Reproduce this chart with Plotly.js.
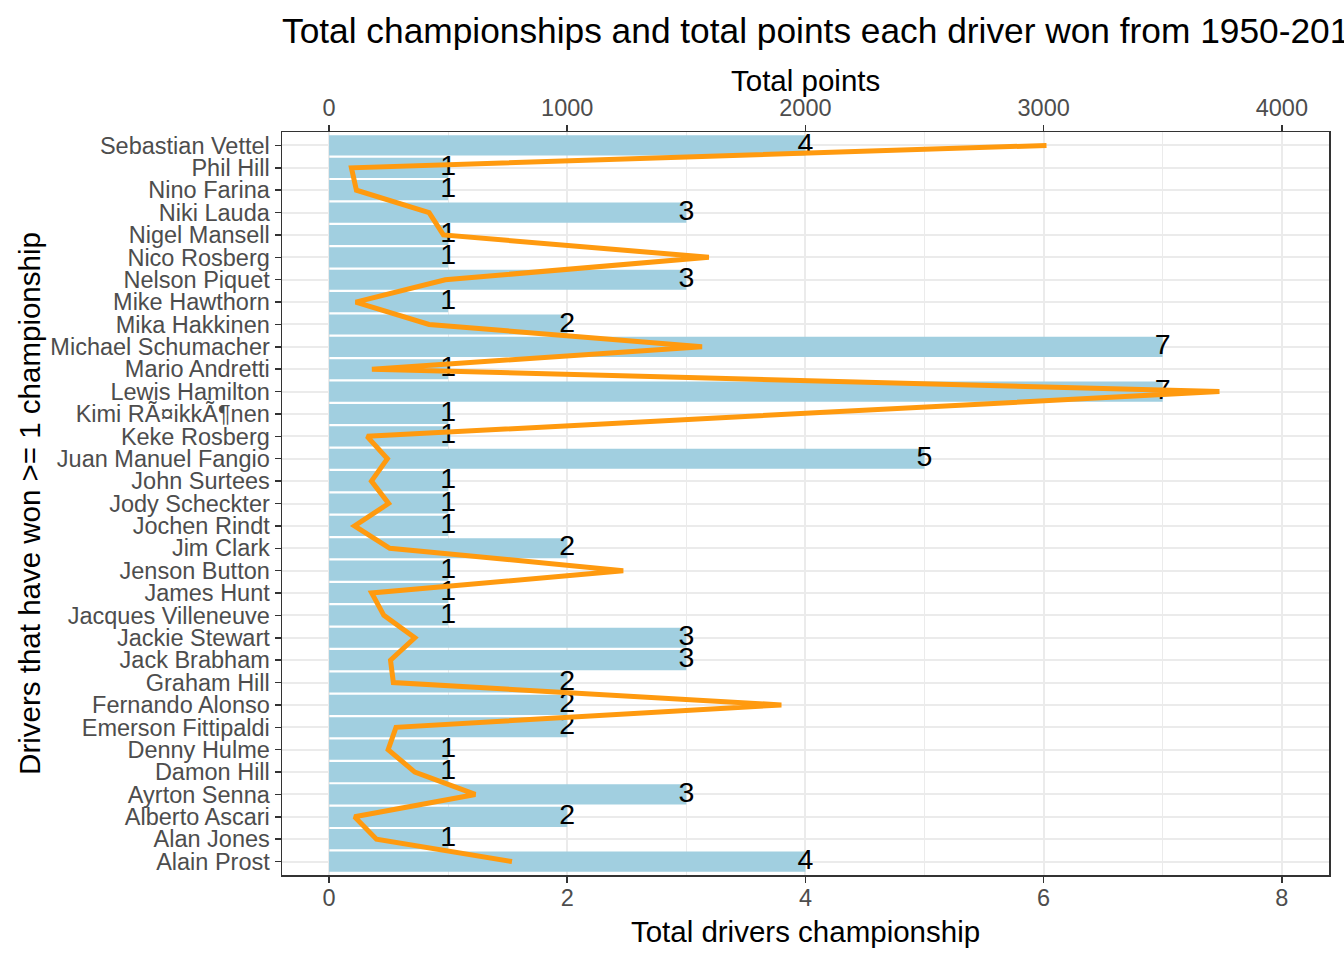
<!DOCTYPE html>
<html>
<head>
<meta charset="utf-8">
<script src="https://cdn.plot.ly/plotly-3.0.1.min.js"></script>
<style>html,body{margin:0;padding:0;background:#fff;}#chart{width:1344px;height:960px;}</style>
</head>
<body>
<div id="chart"></div>
<script>
// Drivers (bottom to top), championships and career points
const drivers = [
  "Alain Prost","Alan Jones","Alberto Ascari","Ayrton Senna","Damon Hill","Denny Hulme",
  "Emerson Fittipaldi","Fernando Alonso","Graham Hill","Jack Brabham","Jackie Stewart",
  "Jacques Villeneuve","James Hunt","Jenson Button","Jim Clark","Jochen Rindt","Jody Scheckter",
  "John Surtees","Juan Manuel Fangio","Keke Rosberg","Kimi R\u00C3\u00A4ikk\u00C3\u00B6nen","Lewis Hamilton",
  "Mario Andretti","Michael Schumacher","Mika Hakkinen","Mike Hawthorn","Nelson Piquet",
  "Nico Rosberg","Nigel Mansell","Niki Lauda","Nino Farina","Phil Hill","Sebastian Vettel"
];
const championships = [4,1,2,3,1,1,2,2,2,3,3,1,1,1,2,1,1,1,5,1,1,7,1,7,2,1,3,1,1,3,1,1,4];
const totalPoints = [768,199,107,614,360,248,281,1899,270,258,360,230,179,1235,255,107,250,178,245,159.5,null,3738,180,1566,420,112,488,1594.5,480,420,115,94,3012];
const champTicks = [0,2,4,6,8];
const pointTicks = [0,1000,2000,3000,4000];

const font = "Liberation Sans, Arial, Helvetica, sans-serif";
const xRange = [-0.395, 8.396];

const bars = {
  type: "bar", orientation: "h", x: championships, y: drivers,
  marker: {color: "#A1CFE0", line: {width: 0}}, width: 0.9,
  hoverinfo: "x+y", xaxis: "x", yaxis: "y"
};
const line = {
  type: "scatter", mode: "lines", x: totalPoints, y: drivers,
  connectgaps: true, line: {color: "#FF9A0F", width: 5},
  xaxis: "x2", yaxis: "y"
};
const labels = {
  type: "scatter", mode: "text", x: championships, y: drivers,
  text: championships.map(String), textposition: "middle center",
  textfont: {family: font, size: 28.5, color: "#000"},
  xaxis: "x", yaxis: "y", hoverinfo: "skip"
};

const layout = {
  width: 1344, height: 960,
  margin: {l: 282, r: 15, t: 132, b: 85},
  paper_bgcolor: "#fff", plot_bgcolor: "#fff",
  showlegend: false,
  font: {family: font},
  title: {
    text: "Total championships and total points each driver won from 1950-2017",
    font: {family: font, size: 35.3, color: "#000"},
    xref: "paper", x: 0, xanchor: "left",
    yref: "container", y: 1 - 31/960, yanchor: "middle"
  },
  xaxis: {
    range: xRange, tickmode: "array", tickvals: champTicks, ticktext: champTicks.map(String),
    showgrid: true, gridcolor: "#EBEBEB", gridwidth: 2,
    minor: {dtick: 1, tick0: 0, showgrid: true, gridcolor: "#EBEBEB", gridwidth: 1, ticks: ""},
    zeroline: false, showline: true, linecolor: "#333333", linewidth: 1.5, mirror: true,
    ticks: "outside", ticklen: 6, tickwidth: 1.5, tickcolor: "#333333", ticklabelstandoff: -5,
    tickfont: {family: font, size: 23.5, color: "#4D4D4D"},
    title: {text: "Total drivers championship", font: {family: font, size: 29.5, color: "#000"}, standoff: 11}
  },
  xaxis2: {
    overlaying: "x", side: "top", anchor: "y",
    range: xRange.map(v => v * 500), tickmode: "array", tickvals: pointTicks, ticktext: pointTicks.map(String),
    showgrid: false, zeroline: false, showline: false,
    ticks: "outside", ticklen: 6, tickwidth: 1.5, tickcolor: "#333333",
    tickfont: {family: font, size: 23.5, color: "#4D4D4D"}
  },
  yaxis: {
    type: "category", categoryorder: "array", categoryarray: drivers,
    tickmode: "array", tickvals: drivers, ticktext: drivers,
    range: [-0.6, drivers.length - 0.4],
    showgrid: true, gridcolor: "#EBEBEB", gridwidth: 2,
    zeroline: false, showline: true, linecolor: "#333333", linewidth: 1.5, mirror: true,
    ticks: "outside", ticklen: 6, tickwidth: 1.5, tickcolor: "#333333",
    tickfont: {family: font, size: 23.5, color: "#4D4D4D"},
    title: {text: "Drivers that have won >= 1 championship", font: {family: font, size: 29.5, color: "#000"}, standoff: 1}
  },
  annotations: [{
    text: "Total points", xref: "paper", yref: "paper", x: 0.5, y: 1,
    xanchor: "center", yanchor: "middle", yshift: 52, showarrow: false,
    font: {family: font, size: 29.5, color: "#000"}
  }],
  bargap: 0.1
};

Plotly.newPlot("chart", [bars, line, labels], layout, {displayModeBar: false, staticPlot: true});
</script>
</body>
</html>
